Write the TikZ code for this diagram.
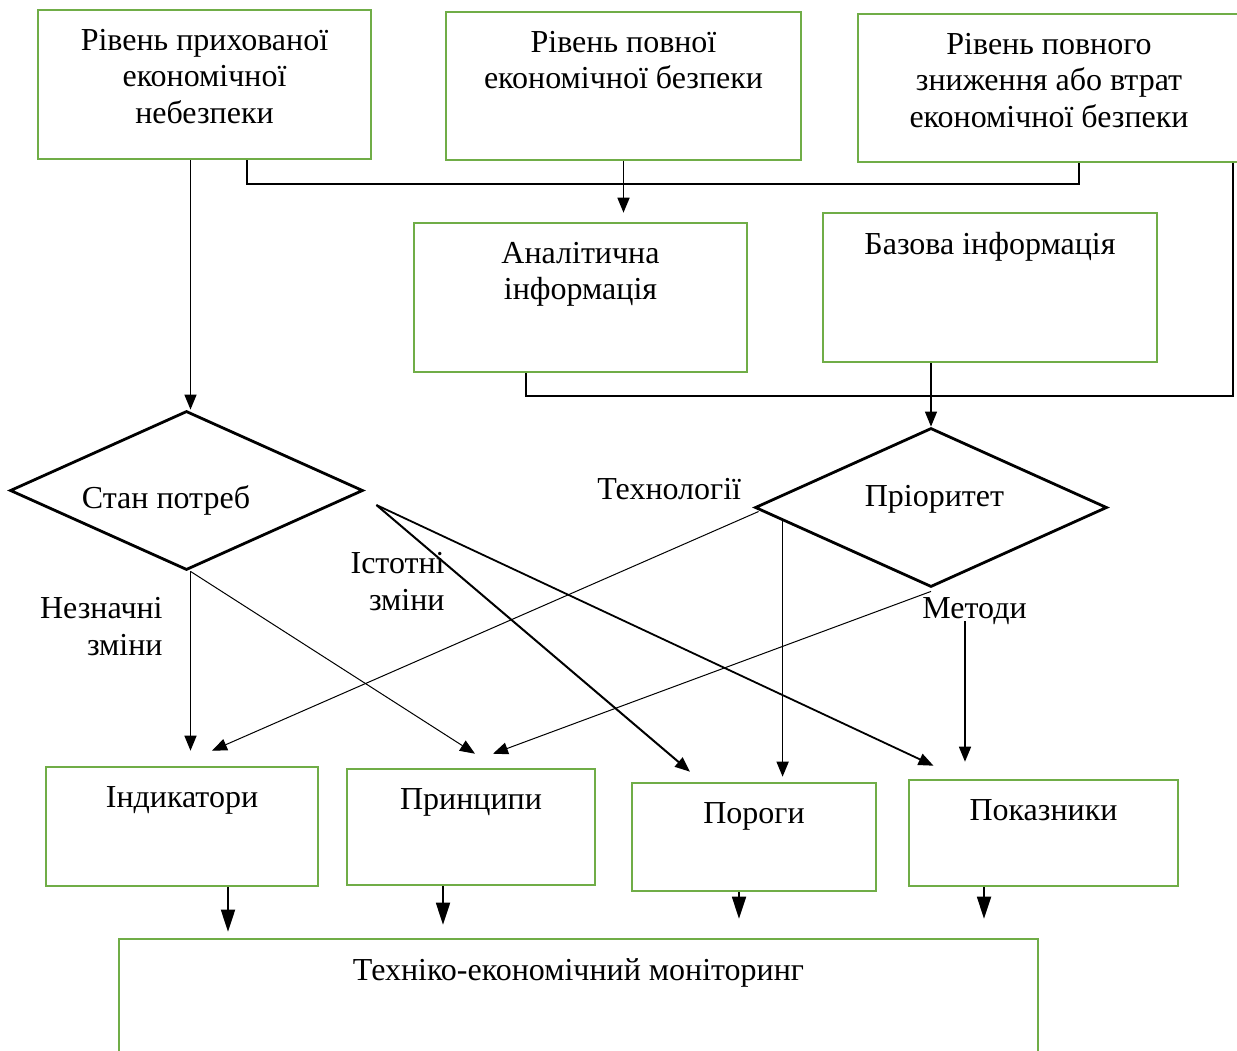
\documentclass[tikz,border=0pt]{standalone}
\usepackage{fontspec}
\setmainfont{Liberation Serif}
\usetikzlibrary{shapes.geometric, arrows.meta, positioning, calc}

\definecolor{boxgreen}{RGB}{112,173,71}

\begin{document}
\begin{tikzpicture}[
    x=0.5pt, y=-0.5pt,
    font=\fontsize{16}{18.3}\selectfont,
    box/.style={rectangle, draw=boxgreen, line width=1.3pt, inner sep=0pt},
    boxtext/.style={label={[anchor=north, inner sep=0pt, align=center, yshift=-10pt]north:#1}},
    choice/.style={diamond, draw=black, line width=1.4pt, inner sep=0pt, minimum width=176.5pt, minimum height=79.5pt},
    link/.style={line width=0.55pt},
    arrow/.style={-{Triangle[length=7.5pt, width=6pt]}, line width=0.8pt},
    thinarrow/.style={arrow, line width=0.5pt},
    bigarrow/.style={-{Triangle[length=11pt, width=7pt]}, line width=0.9pt},
    note/.style={inner sep=0pt, align=right}
]
\path[use as bounding box, fill=white] (0,0) rectangle (1237,1050);

% Levels of economic security
\node[box, minimum width=166.5pt, minimum height=74.5pt, boxtext={Рівень прихованої\\економічної\\небезпеки}] (top1) at (204.5, 84.5) {};
\node[box, minimum width=177.5pt, minimum height=74pt, boxtext={Рівень повної\\економічної безпеки}] (top2) at (623.5, 86) {};
\node[box, minimum width=191pt, minimum height=74pt, boxtext={Рівень повного\\зниження або втрат\\економічної безпеки}] (top3) at (1049, 88) {};

% Information
\node[box, minimum width=166.5pt, minimum height=74.5pt, boxtext={Аналітична\\інформація}] (anal) at (580.5, 297.5) {};
\node[box, minimum width=167pt, minimum height=74.5pt, boxtext={Базова інформація}] (baza) at (990, 287.5) {};

% Decisions
\node[choice, label={[anchor=base, xshift=-10.25pt, yshift=-4.75pt]center:Стан потреб}] (stan) at (186.5, 490.5) {};
\node[choice, minimum width=176pt, label={[anchor=base, xshift=1.75pt, yshift=4.25pt]center:Пріоритет}] (prior) at (931, 507.5) {};

% Tools
\node[box, minimum width=136pt, minimum height=59.5pt, boxtext={Індикатори}] (ind) at (182, 826.5) {};
\node[box, minimum width=124pt, minimum height=58pt, boxtext={Принципи}] (princ) at (471, 827) {};
\node[box, minimum width=122pt, minimum height=54pt, boxtext={Пороги}] (porogy) at (754, 837) {};
\node[box, minimum width=134.5pt, minimum height=53pt, boxtext={Показники}] (pokaz) at (1043.5, 833) {};

% Monitoring
\node[box, minimum width=459.5pt, minimum height=65.5pt, boxtext={Техніко-економічний моніторинг}] (monitor) at (578.5, 1004.5) {};

% Edge labels
\node[note, anchor=north east] (minor) at (163, 597) {Незначні\\зміни};
\node[note, anchor=north east] (major) at (445, 552) {Істотні\\зміни};
\node[note, anchor=base west] (tech) at (597, 499) {Технології};
\node[note, anchor=base west] (methods) at (922, 618) {Методи};

% Connections from the top row
\draw[arrow] ([xshift=2pt]stan.north |- top1.south) -- ([xshift=2pt]stan.north);
\draw[arrow, shorten >=4.5pt] (top2.south) -- (top2.south |- anal.north);
\coordinate (busA) at (0, 184);
\coordinate (t1tap) at ([xshift=21.25pt]top1.south);
\coordinate (t3tap) at ([xshift=15pt]top3.south);
\draw[link] (t1tap) |- (t3tap |- busA) -- (t3tap);

\coordinate (busB) at (0, 396);
\coordinate (a2tap) at ([xshift=-27.25pt]anal.south);
\coordinate (t3edge) at ([xshift=92pt]top3.south);
\draw[link] (a2tap) |- (t3edge |- busB) -- (t3edge);
\draw[arrow, line width=0.6pt] (prior.north |- baza.south) -- (prior.north);

% From Стан потреб
\coordinate (stanlow) at ([xshift=2pt]stan.south);
\draw[arrow, line width=0.7pt, shorten >=7.5pt] (stanlow) -- (stanlow |- ind.north);
\draw[thinarrow] (stanlow) -- ([xshift=2pt, yshift=7pt]princ.north);
\coordinate (stanout) at ([xshift=6pt, yshift=-7.25pt]stan.east);
\draw[arrow, line width=1pt] (stanout) -- ([xshift=-32pt, yshift=5pt]porogy.north);
\draw[arrow, line width=0.9pt] (stanout) -- ([xshift=-55pt, yshift=6.5pt]pokaz.north);

% From Пріоритет
\draw[thinarrow] ([xshift=2.5pt, yshift=-2pt]prior.west) -- ([xshift=15pt, yshift=7.5pt]ind.north);
\coordinate (prleft) at ([xshift=14.5pt, yshift=-6.5pt]prior.west);
\draw[arrow, shorten >=2.5pt] (prleft) -- (prleft |- porogy.north);
\draw[thinarrow] ([yshift=-1.5pt]prior.south) -- ([xshift=11pt, yshift=7pt]princ.north);
\coordinate (prlow) at ([xshift=17pt, yshift=-16.5pt]prior.south);
\draw[arrow, shorten >=8.5pt] (prlow) -- (prlow |- pokaz.north);

% Into monitoring
\coordinate (indout) at ([xshift=23pt]ind.south);
\draw[bigarrow, shorten >=3pt] (indout) -- (indout |- monitor.north);
\coordinate (princout) at ([xshift=-14pt]princ.south);
\draw[bigarrow, shorten >=6.5pt] (princout) -- (princout |- monitor.north);
\coordinate (porout) at ([xshift=-7.5pt]porogy.south);
\draw[bigarrow, shorten >=9.5pt] (porout) -- (porout |- monitor.north);
\coordinate (pokout) at ([xshift=-29.75pt]pokaz.south);
\draw[bigarrow, shorten >=9.5pt] (pokout) -- (pokout |- monitor.north);

\end{tikzpicture}
\end{document}
